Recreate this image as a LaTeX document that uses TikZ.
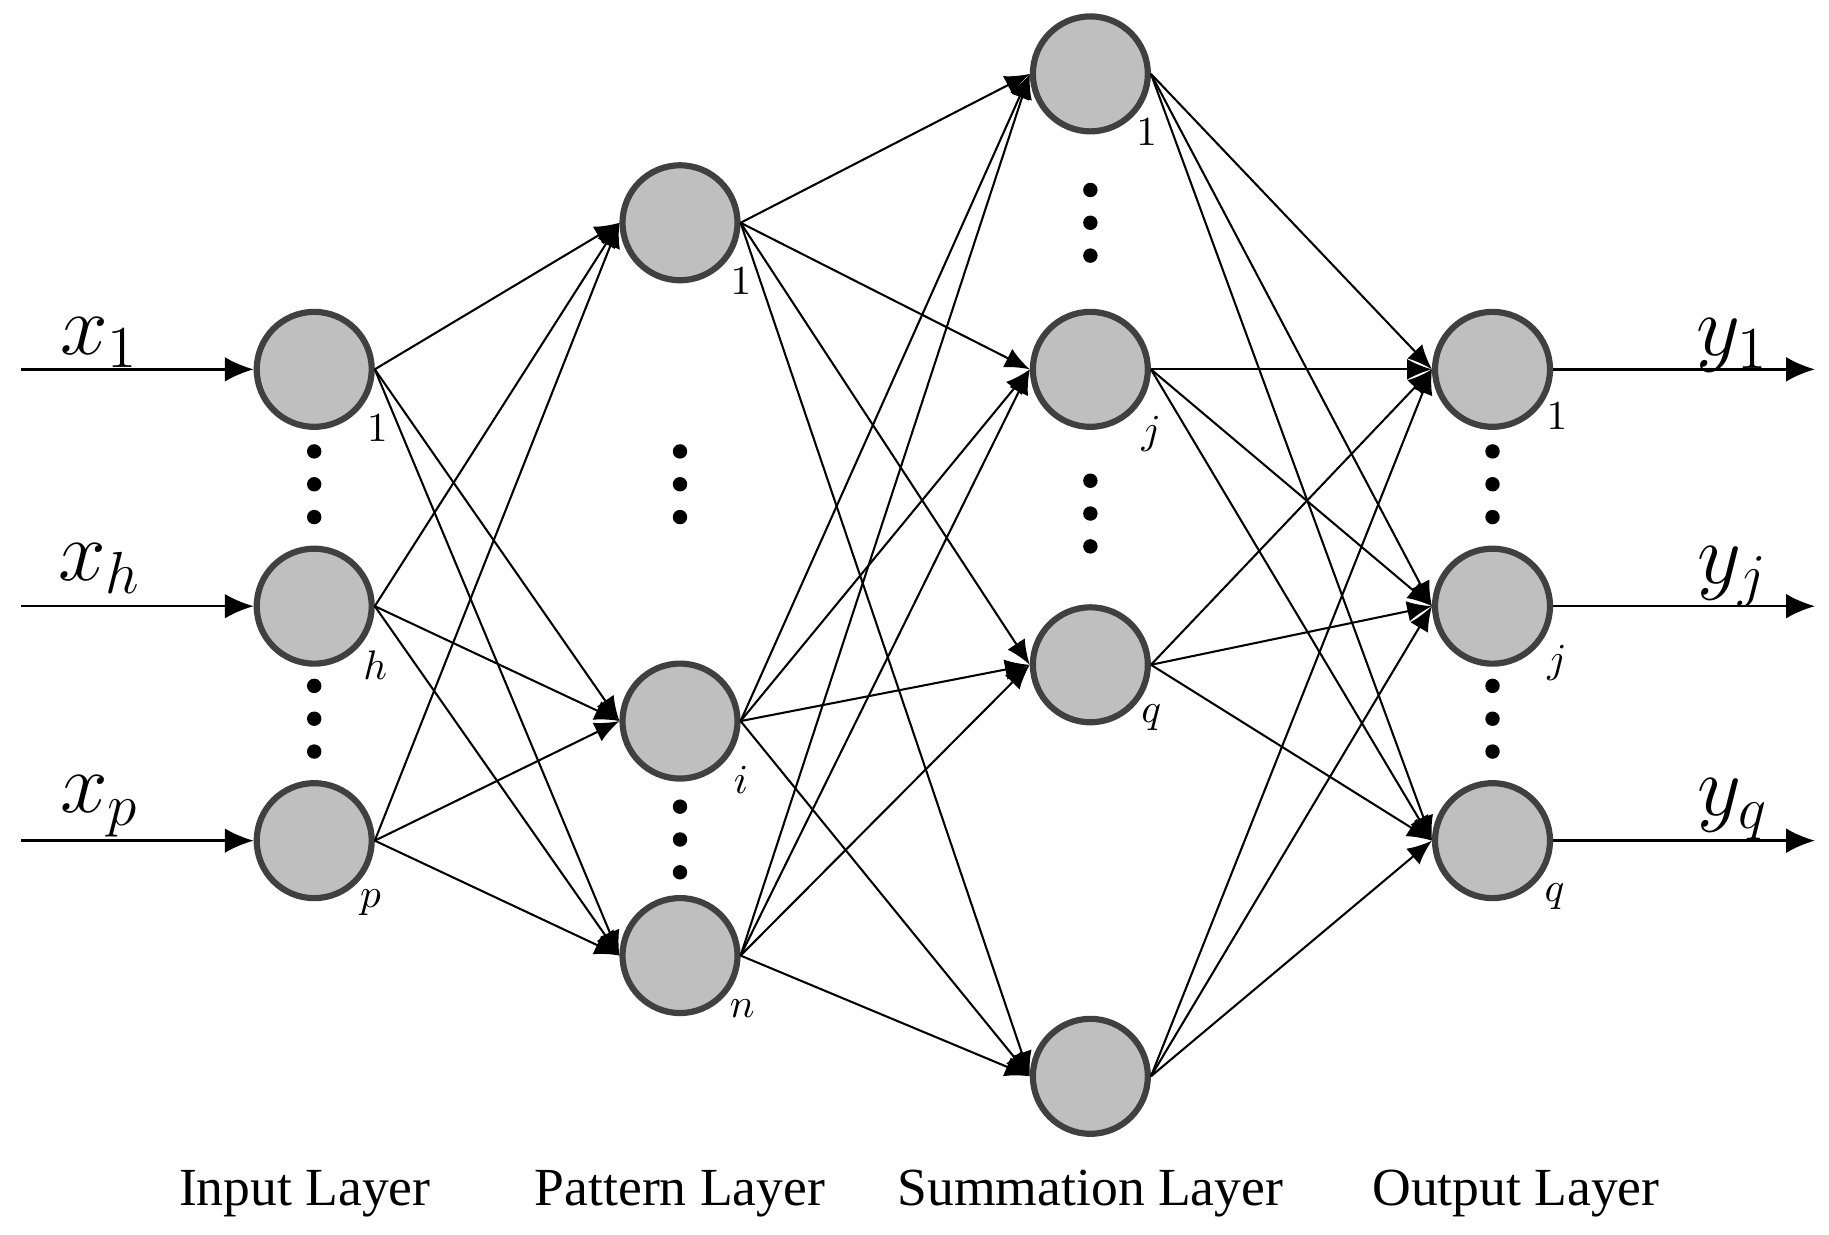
\documentclass[tikz,border=0pt]{standalone}
\usepackage{fontspec}
\setmainfont{Liberation Serif}
\usetikzlibrary{arrows.meta}
\begin{document}
\begin{tikzpicture}[x=0.01cm,y=-0.01cm,
  neuron/.style={circle,draw=black!75,line width=1.5pt,fill=black!25,minimum size=0.98cm,inner sep=0pt},
  edge/.style={line width=0.5pt,-{Latex[length=6pt,width=5pt]}},
  io/.style={line width=0.6pt,-{Latex[length=7pt,width=6pt]}},
  idx/.style={font=\fontsize{10}{10}\selectfont},
  vdot/.style={circle,fill=black,inner sep=0pt,minimum size=3.5pt},
  lay/.style={font=\fontsize{13}{13}\selectfont}]
\useasboundingbox (0,0) rectangle (1560,1053);
% nodes
\foreach \n/\y/\l/\lx/\ly in {1/315/1/322/365, 2/517/h/320/567, 3/717/p/316/770}{
  \node[neuron] (I\n) at (268,\y) {};
  \node[idx] at (\lx,\ly) {$\l$};}
\foreach \n/\y/\l/\lx/\ly in {1/190/1/632/240, 2/615/i/632/665, 3/815/n/633/860}{
  \node[neuron] (P\n) at (580,\y) {};
  \node[idx] at (\lx,\ly) {$\l$};}
\foreach \n/\y in {1/63, 2/315, 3/567, 4/918}{
  \node[neuron] (S\n) at (930,\y) {};}
\node[idx] at (978,113) {$1$};
\node[idx] at (982,370) {$j$};
\node[idx] at (982,612) {$q$};
\foreach \n/\y/\l/\lx/\ly in {1/315/1/1328/355, 2/517/j/1328/565, 3/717/q/1326/765}{
  \node[neuron] (O\n) at (1273,\y) {};
  \node[idx] at (\lx,\ly) {$\l$};}
% dots
\foreach \x/\ys in {268/{385,413,441,585,613,641}, 580/{385,413,441,688,716,744}, 930/{162,190,218,410,438,466}, 1273/{385,413,441,585,613,641}}{
  \foreach \y in \ys {\node[vdot] at (\x,\y) {};}}
% inputs / outputs
\foreach \n/\t/\y in {1/1/315, 2/h/517, 3/p/717}{
  \coordinate (in\n) at (18,\y);
  \draw[io] (in\n) -- (I\n.west);}
\node[font=\fontsize{22}{22}\selectfont] at (85,292) {$x_1$};
\node[font=\fontsize{22}{22}\selectfont] at (85,485) {$x_h$};
\node[font=\fontsize{22}{22}\selectfont] at (85,688) {$x_p$};
\foreach \n/\y in {1/315, 2/517, 3/717}{
  \coordinate (out\n) at (1548,\y);
  \draw[io] (O\n.east) -- (out\n);}
\node[font=\fontsize{22}{22}\selectfont] at (1478,295) {$y_1$};
\node[font=\fontsize{22}{22}\selectfont] at (1478,492) {$y_j$};
\node[font=\fontsize{22}{22}\selectfont] at (1478,690) {$y_q$};
% edges
\foreach \a in {1,2,3}{\foreach \b in {1,2,3}{\draw[edge] (I\a.east) -- (P\b.west);}}
\foreach \a in {1,2,3}{\foreach \b in {1,2,3,4}{\draw[edge] (P\a.east) -- (S\b.west);}}
\foreach \a in {1,2,3,4}{\foreach \b in {1,2,3}{\draw[edge] (S\a.east) -- (O\b.west);}}
% layer labels
\node[lay] at (260,1018) {Input Layer};
\node[lay] at (580,1018) {Pattern Layer};
\node[lay] at (930,1018) {Summation Layer};
\node[lay] at (1293,1018) {Output Layer};
\end{tikzpicture}
\end{document}
